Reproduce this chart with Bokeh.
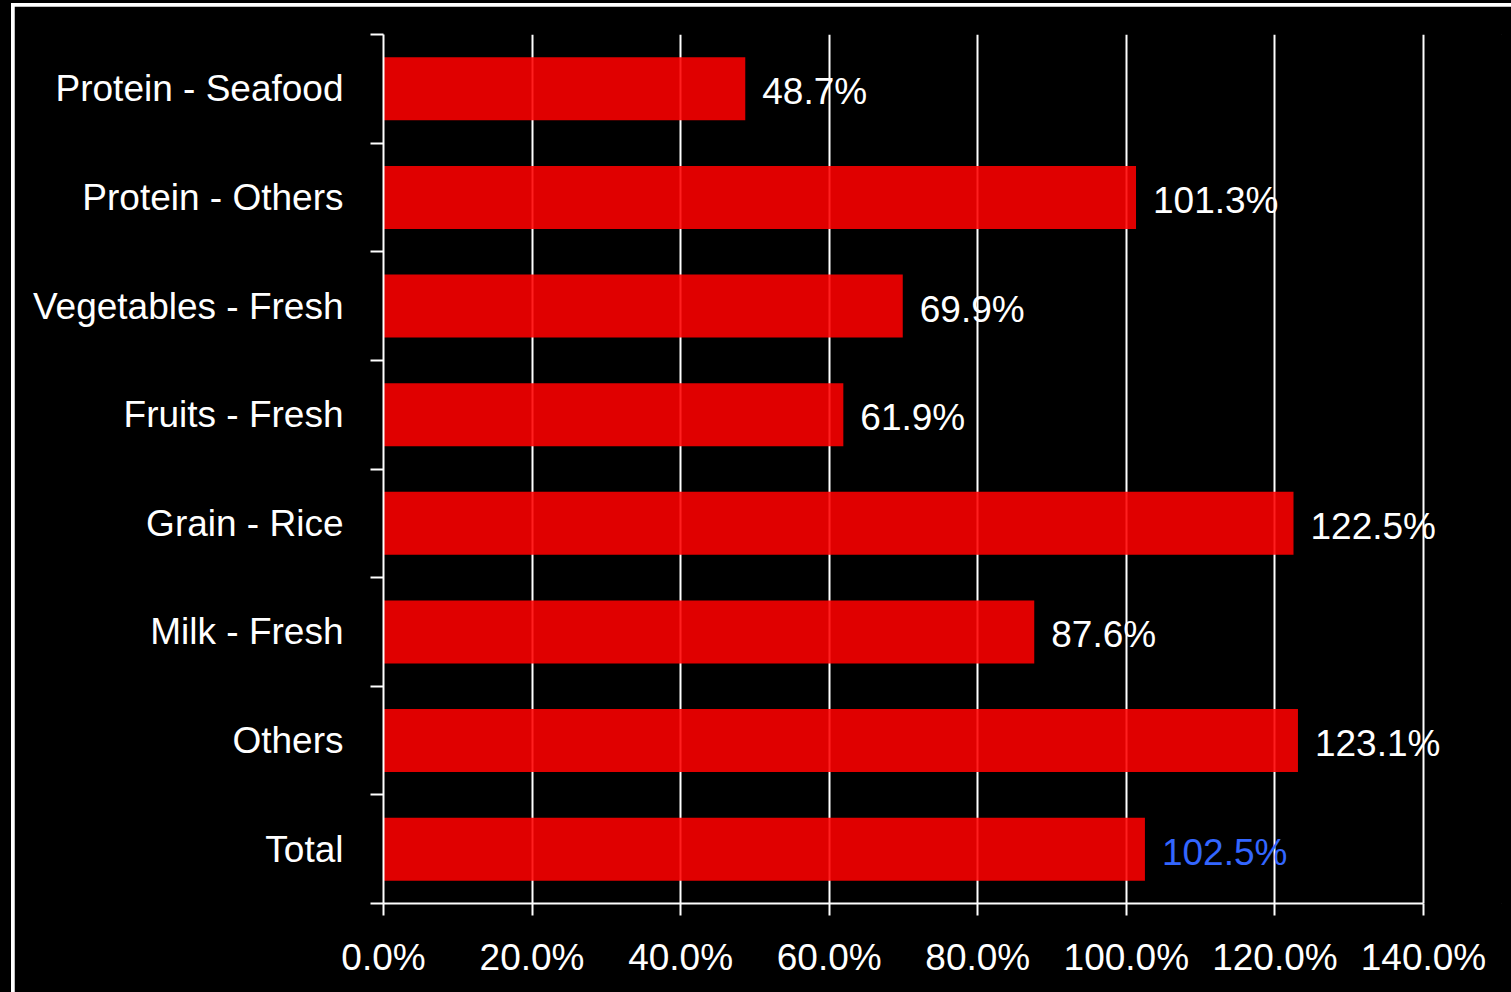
from bokeh.plotting import figure
from bokeh.models import (Range1d, FixedTicker, PrintfTickFormatter, ColumnDataSource,
                          Label, LinearAxis, Grid)
from bokeh.embed import file_html
from bokeh.resources import INLINE

categories = ["Protein - Seafood", "Protein - Others", "Vegetables - Fresh", "Fruits - Fresh",
              "Grain - Rice", "Milk - Fresh", "Others", "Total"]
values = [48.7, 101.3, 69.9, 61.9, 122.5, 87.6, 123.1, 102.5]
x_ticks = [0, 20, 40, 60, 80, 100, 120, 140]
x_max = 140

n = len(categories)
centers = [n - i - 0.5 for i in range(n)]
labels = [f"{v:.1f}%" for v in values]
label_colors = ["white"] * (n - 1) + ["#3366ff"]

src = ColumnDataSource(dict(y=centers, v=values))

FONT = "Liberation Sans"
FS = "37px"

W, H = 1497, 986
BL, BR, BT, BB = 369, 10, 28, 89
axis_px = 1040                      # pixel length of the 0..140 axis
frame_w = W - BL - BR
x_end = x_max * frame_w / axis_px   # extra room on the right for value labels

p = figure(width=W, height=H, output_backend="svg", toolbar_location=None,
           x_range=Range1d(0, x_end), y_range=Range1d(0, n),
           min_border_left=BL, min_border_right=BR, min_border_top=BT, min_border_bottom=BB,
           background_fill_color="black", border_fill_color="black")
p.margin = (6, 0, 0, 14)
p.styles = {"box-shadow": "0 0 0 3px white, 0 0 0 60px black"}
p.outline_line_color = "black"
p.outline_line_width = 1
p.xaxis.visible = False
p.yaxis.visible = False
p.xgrid.visible = False
p.ygrid.visible = False

xa = LinearAxis(ticker=FixedTicker(ticks=x_ticks), formatter=PrintfTickFormatter(format="%.1f%%"),
                bounds=(0, x_max))
xa.axis_line_color = "white"
xa.axis_line_width = 2
xa.major_tick_line_color = "white"
xa.major_tick_line_width = 2
xa.major_tick_in = 0
xa.major_tick_out = 12
xa.minor_tick_line_color = None
xa.major_label_text_color = "white"
xa.major_label_text_font = FONT
xa.major_label_text_font_size = FS
xa.major_label_standoff = 21
p.add_layout(xa, "below")

ya = LinearAxis(ticker=FixedTicker(ticks=centers, minor_ticks=list(range(n + 1))))
ya.major_label_overrides = {c: cat for c, cat in zip(centers, categories)}
ya.axis_line_color = "white"
ya.axis_line_width = 2
ya.major_tick_line_color = None
ya.major_tick_in = 0
ya.major_tick_out = 0
ya.minor_tick_line_color = "white"
ya.minor_tick_line_width = 2
ya.minor_tick_in = 0
ya.minor_tick_out = 13
ya.major_label_text_color = "white"
ya.major_label_text_font = FONT
ya.major_label_text_font_size = FS
ya.major_label_standoff = 27
p.add_layout(ya, "left")

g = Grid(dimension=0, ticker=FixedTicker(ticks=x_ticks))
g.grid_line_color = "white"
g.grid_line_width = 2
p.add_layout(g)

p.hbar(y="y", right="v", left=0, height=0.58, source=src,
       fill_color="#ff0000", fill_alpha=0.88, line_color=None)

for yv, v, lab, col in zip(centers, values, labels, label_colors):
    p.add_layout(Label(x=v, y=yv, text=lab, x_offset=17, y_offset=-3,
                       text_color=col, text_font=FONT, text_font_size=FS,
                       text_baseline="middle", text_align="left"))

open("out.html", "w").write(file_html(p, INLINE))
